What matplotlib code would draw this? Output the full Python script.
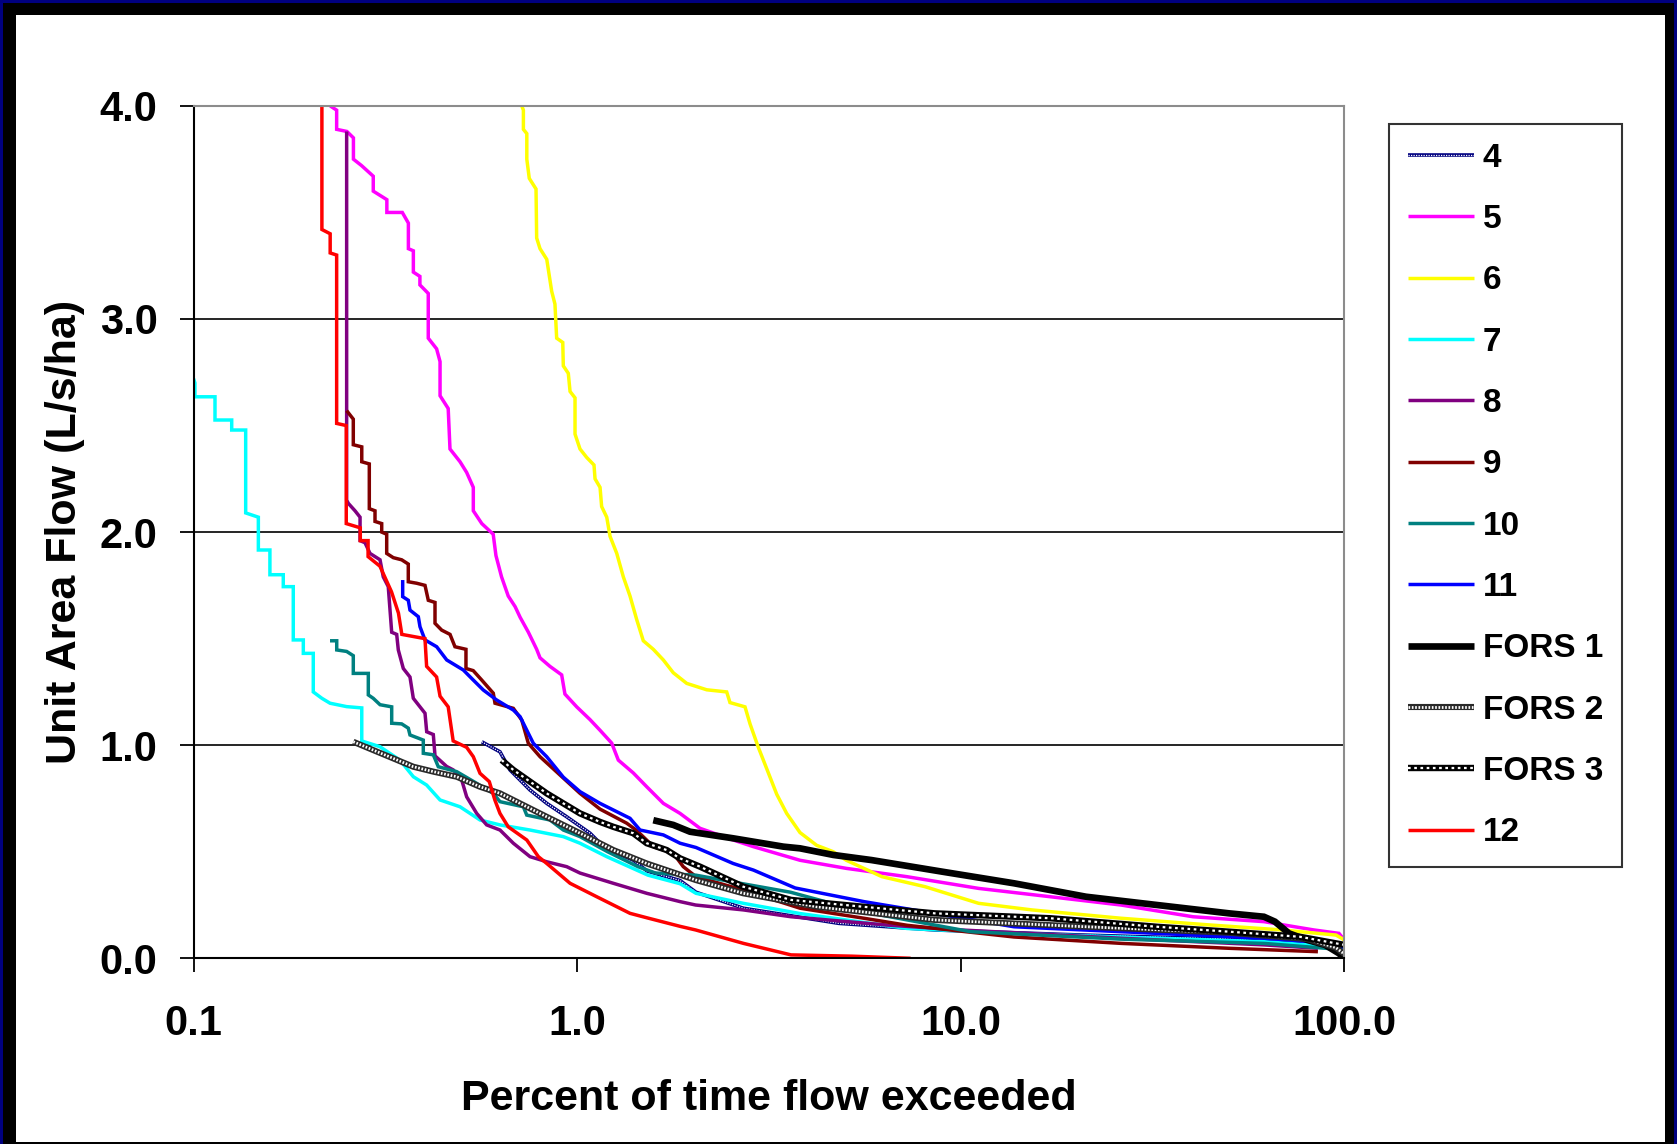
"""
Flow duration curves: unit area flow against percent of time the flow is exceeded.
"""
import matplotlib
matplotlib.use("Agg")
import matplotlib.pyplot as plt
from matplotlib.patches import Rectangle
from matplotlib.ticker import FixedLocator, NullLocator

# ---- data: percent of time exceeded / unit area flow (L/s/ha) ----
pct_4 = [0.564, 0.629, 0.668, 0.753, 0.833, 0.939, 1.08, 1.147, 1.242, 1.40, 1.52, 1.854, 2.04, 2.71, 4.81, 8.55, 20.0, 50.0, 100]
flow_4 = [1.016, 0.969, 0.884, 0.79, 0.727, 0.664, 0.587, 0.54, 0.50, 0.461, 0.41, 0.365, 0.31, 0.235, 0.164, 0.133, 0.11, 0.09, 0.054]

pct_5 = [0.227, 0.236, 0.236, 0.251, 0.261, 0.261, 0.274, 0.294, 0.294, 0.319,
         0.319, 0.350, 0.363, 0.363, 0.374, 0.374, 0.389, 0.389, 0.409, 0.409,
         0.430, 0.439, 0.439, 0.461, 0.466, 0.495, 0.515, 0.536, 0.536, 0.564,
         0.604, 0.614, 0.635, 0.661, 0.689, 0.710, 0.746, 0.784, 0.800, 0.849,
         0.911, 0.929, 0.997, 1.08, 1.147, 1.23, 1.28, 1.40, 1.518, 1.677,
         1.854, 2.09, 2.552, 2.878, 3.809, 5.03, 7.24, 11.13, 17.09, 26.16,
         40.3, 61.7, 83.3, 96.8, 100]
flow_5 = [4.00, 3.98, 3.89, 3.88, 3.85, 3.75, 3.72, 3.67, 3.60, 3.56,
          3.50, 3.50, 3.45, 3.33, 3.32, 3.22, 3.20, 3.16, 3.12, 2.91,
          2.86, 2.80, 2.64, 2.58, 2.39, 2.33, 2.28, 2.21, 2.10, 2.04,
          1.99, 1.89, 1.79, 1.70, 1.65, 1.60, 1.53, 1.45, 1.41, 1.37,
          1.33, 1.24, 1.18, 1.12, 1.07, 1.01, 0.93, 0.87, 0.805, 0.727,
          0.68, 0.61, 0.555, 0.524, 0.46, 0.422, 0.383, 0.328, 0.289, 0.25,
          0.195, 0.172, 0.133, 0.117, 0.086]

pct_6 = [0.717, 0.724, 0.724, 0.739, 0.739, 0.750, 0.781, 0.784, 0.800, 0.833,
         0.858, 0.875, 0.884, 0.917, 0.920, 0.948, 0.958, 0.987, 0.987, 1.017,
         1.059, 1.106, 1.113, 1.147, 1.158, 1.194, 1.218, 1.268, 1.319, 1.373,
         1.429, 1.487, 1.579, 1.677, 1.78, 1.93, 2.176, 2.453, 2.502, 2.738,
         2.822, 2.966, 3.182, 3.312, 3.516, 3.809, 4.211, 4.652, 5.03, 6.23,
         8.07, 11.13, 15.33, 26.16, 44.9, 68.8, 95.1, 100]
flow_6 = [4.00, 3.98, 3.89, 3.87, 3.75, 3.66, 3.61, 3.38, 3.33, 3.28,
          3.13, 3.07, 2.91, 2.89, 2.78, 2.745, 2.66, 2.63, 2.46, 2.39,
          2.35, 2.315, 2.25, 2.21, 2.12, 2.07, 1.98, 1.90, 1.79, 1.70,
          1.59, 1.49, 1.45, 1.40, 1.34, 1.29, 1.26, 1.25, 1.20, 1.18,
          1.10, 0.99, 0.85, 0.77, 0.68, 0.59, 0.53, 0.50, 0.46, 0.383,
          0.336, 0.258, 0.227, 0.188, 0.156, 0.133, 0.109, 0.086]

pct_7 = [0.100, 0.1008, 0.1008, 0.1137, 0.1137, 0.1257, 0.1257, 0.1367, 0.1367, 0.1475,
         0.1475, 0.1581, 0.1581, 0.1713, 0.1713, 0.1819, 0.1819, 0.1932, 0.1932, 0.2051,
         0.2051, 0.216, 0.2268, 0.2506, 0.2744, 0.2744, 0.306, 0.345, 0.374, 0.405,
         0.439, 0.495, 0.558, 0.629, 0.753, 0.92, 1.017, 1.194, 1.53, 1.854,
         2.04, 2.71, 3.81, 5.5, 7.24, 13.76, 32.5, 61.7, 95.0, 100]
flow_7 = [2.72, 2.70, 2.635, 2.635, 2.526, 2.526, 2.479, 2.479, 2.09, 2.07,
          1.916, 1.916, 1.80, 1.80, 1.744, 1.744, 1.494, 1.494, 1.431, 1.431,
          1.25, 1.22, 1.197, 1.181, 1.175, 1.02, 0.993, 0.93, 0.852, 0.813,
          0.743, 0.711, 0.649, 0.626, 0.602, 0.571, 0.54, 0.477, 0.39, 0.35,
          0.305, 0.258, 0.21, 0.17, 0.14, 0.117, 0.094, 0.078, 0.054, 0.03]

pct_8 = [0.2506, 0.2506, 0.2531, 0.2635, 0.2716, 0.2716, 0.2798, 0.2883, 0.3062, 0.3122,
         0.3217, 0.3284, 0.3384, 0.3417, 0.3521, 0.3665, 0.3739, 0.3892, 0.4011, 0.4052,
         0.4216, 0.4259, 0.4569, 0.4753, 0.4999, 0.515, 0.547, 0.5807, 0.6291, 0.6815,
         0.7533, 0.8327, 0.9389, 1.017, 1.242, 1.518, 1.854, 2.036, 2.713, 3.609,
         6.42, 10.0, 26.2, 61.7, 85.3]
flow_8 = [3.88, 2.15, 2.135, 2.10, 2.07, 1.96, 1.95, 1.90, 1.87, 1.79,
          1.744, 1.53, 1.52, 1.447, 1.36, 1.32, 1.22, 1.18, 1.15, 1.063,
          1.05, 0.95, 0.90, 0.884, 0.837, 0.758, 0.68, 0.626, 0.602, 0.54,
          0.477, 0.453, 0.43, 0.40, 0.352, 0.305, 0.266, 0.25, 0.227, 0.195,
          0.156, 0.133, 0.094, 0.063, 0.047]

pct_9 = [0.2506, 0.2608, 0.2608, 0.2744, 0.2744, 0.2871, 0.2871, 0.2971, 0.2971, 0.3093,
         0.3093, 0.3187, 0.3187, 0.3316, 0.3487, 0.3628, 0.3628, 0.3816, 0.4011, 0.4091,
         0.4259, 0.4259, 0.4433, 0.4661, 0.4801, 0.5129, 0.5129, 0.5357, 0.5636, 0.6043,
         0.6105, 0.6815, 0.7169, 0.7457, 0.80, 0.902, 1.017, 1.147, 1.346, 1.429,
         1.58, 1.78, 1.89, 2.04, 2.71, 3.81, 5.5, 7.24, 13.76, 26.2,
         50.0, 85.3]
flow_9 = [2.57, 2.53, 2.41, 2.40, 2.33, 2.32, 2.11, 2.10, 2.05, 2.04,
          2.00, 1.99, 1.90, 1.88, 1.87, 1.85, 1.767, 1.76, 1.75, 1.68,
          1.67, 1.572, 1.54, 1.52, 1.462, 1.45, 1.36, 1.35, 1.306, 1.244,
          1.197, 1.173, 1.118, 1.009, 0.946, 0.86, 0.774, 0.70, 0.634, 0.60,
          0.524, 0.493, 0.43, 0.383, 0.32, 0.235, 0.19, 0.155, 0.10, 0.07,
          0.047, 0.031]

pct_10 = [0.2268, 0.2361, 0.2361, 0.2506, 0.2608, 0.2608, 0.2854, 0.2854, 0.294, 0.3062,
          0.3284, 0.3284, 0.3487, 0.3628, 0.3665, 0.397, 0.397, 0.4216, 0.4344, 0.4851,
          0.547, 0.6043, 0.6291, 0.7238, 0.7387, 0.8494, 0.92, 1.017, 1.2, 1.44,
          1.6, 2.04, 2.7, 3.6, 5.5, 10.6, 26.0, 61.7, 100]
flow_10 = [1.49, 1.49, 1.447, 1.44, 1.42, 1.337, 1.337, 1.236, 1.22, 1.19,
           1.18, 1.103, 1.10, 1.08, 1.048, 1.024, 0.962, 0.955, 0.899, 0.876,
           0.821, 0.774, 0.735, 0.711, 0.672, 0.649, 0.602, 0.571, 0.50, 0.43,
           0.40, 0.39, 0.35, 0.31, 0.22, 0.125, 0.09, 0.07, 0.04]

pct_11 = [0.3508, 0.3508, 0.3628, 0.3665, 0.3853, 0.3892, 0.4011, 0.4302, 0.4569, 0.5047,
          0.5357, 0.5691, 0.6168, 0.6815, 0.7097, 0.7457, 0.7684, 0.8327, 0.92, 1.017,
          1.147, 1.373, 1.458, 1.677, 1.854, 2.04, 2.55, 2.88, 3.7, 5.59,
          13.76, 32.5, 61.7, 95.0, 100]
flow_11 = [1.775, 1.697, 1.68, 1.634, 1.603, 1.556, 1.494, 1.462, 1.40, 1.353,
           1.306, 1.259, 1.212, 1.165, 1.134, 1.056, 1.009, 0.946, 0.85, 0.782,
           0.727, 0.657, 0.602, 0.579, 0.54, 0.52, 0.445, 0.414, 0.33, 0.266,
           0.148, 0.117, 0.094, 0.07, 0.05]

pct_fors1 = [1.579, 1.78, 1.968, 2.552, 3.446, 3.81, 4.652, 5.85, 8.98, 13.76,
             21.2, 32.5, 50.0, 61.7, 65.9, 71.7, 80.0, 89.0, 96.8, 100]
flow_fors1 = [0.648, 0.626, 0.594, 0.563, 0.524, 0.516, 0.485, 0.461, 0.406, 0.352,
              0.289, 0.25, 0.211, 0.195, 0.172, 0.117, 0.086, 0.063, 0.023, 0.0]

pct_fors2 = [0.2608, 0.294, 0.3316, 0.3739, 0.4216, 0.4851, 0.5579, 0.6291, 0.7238, 0.8327,
             1.017, 1.242, 1.518, 2.04, 2.71, 4.21, 8.55, 20.0, 50.0, 80.0, 95.0, 100]
flow_fors2 = [1.016, 0.977, 0.938, 0.899, 0.876, 0.852, 0.805, 0.774, 0.719, 0.664,
              0.587, 0.508, 0.445, 0.367, 0.305, 0.242, 0.18, 0.15, 0.12, 0.09, 0.05, 0.02]

pct_fors3 = [0.6356, 0.6815, 0.7533, 0.8327, 0.92, 1.017, 1.147, 1.242, 1.40, 1.518,
             1.711, 1.854, 2.09, 2.71, 3.61, 5.56, 8.55, 17.1, 32.5, 50.0, 76.6, 100]
flow_fors3 = [0.93, 0.884, 0.829, 0.774, 0.727, 0.68, 0.64, 0.617, 0.587, 0.54,
              0.508, 0.469, 0.43, 0.336, 0.274, 0.242, 0.211, 0.188, 0.148, 0.125, 0.101, 0.063]

pct_12 = [0.216, 0.216, 0.227, 0.227, 0.236, 0.236, 0.250, 0.250, 0.272, 0.272,
          0.285, 0.285, 0.306, 0.328, 0.342, 0.349, 0.401, 0.405, 0.430, 0.439,
          0.461, 0.475, 0.515, 0.536, 0.558, 0.590, 0.610, 0.629, 0.661, 0.739,
          0.792, 0.833, 0.958, 1.124, 1.373, 1.52, 1.854, 2.036, 2.713, 3.609,
          5.2, 7.4]
flow_12 = [4.0, 3.42, 3.40, 3.31, 3.30, 2.51, 2.50, 2.04, 2.02, 1.96,
           1.96, 1.885, 1.84, 1.72, 1.62, 1.52, 1.50, 1.37, 1.32, 1.23,
           1.18, 1.02, 0.99, 0.946, 0.868, 0.829, 0.743, 0.68, 0.617, 0.555,
           0.477, 0.445, 0.352, 0.289, 0.211, 0.19, 0.15, 0.133, 0.07, 0.016,
           0.01, 0.0]

x_ticks = [0.1, 1, 10, 100]
x_tick_labels = ["0.1", "1.0", "10.0", "100.0"]
y_ticks = [0, 1, 2, 3, 4]
y_tick_labels = ["0.0", "1.0", "2.0", "3.0", "4.0"]

W, H, DPI = 1677, 1144, 100


def frame_box(fig, left, top, right, bottom, color):
    """ Paint a rectangle on the figure, given in pixels from the top-left corner.
    """
    fig.add_artist(Rectangle((left / W, 1 - bottom / H), (right - left) / W, (bottom - top) / H,
                             transform=fig.transFigure, facecolor=color, edgecolor="none", zorder=-10))


def draw_series(ax, pct, flow, color, lw, overlay=None):
    """ Draw one duration curve, optionally with a dotted pattern on top.

    Returns:
        handle (or tuple of handles) for the legend.
    """
    base, = ax.plot(pct, flow, color=color, lw=lw, solid_capstyle="butt", solid_joinstyle="miter")
    if overlay is None:
        return base
    o_color, o_lw, o_dash = overlay
    top, = ax.plot(pct, flow, color=o_color, lw=o_lw, linestyle=(0, o_dash), dash_capstyle="butt")
    return (base, top)


plt.rcParams["font.family"] = ["Liberation Sans", "DejaVu Sans"]
plt.rcParams["font.weight"] = "bold"

fig = plt.figure(figsize=(W / DPI, H / DPI), dpi=DPI)
fig.patch.set_facecolor("#000080")
frame_box(fig, 3, 3, 1674, 1144, "black")
frame_box(fig, 16, 15, 1665, 1142, "white")

ax = fig.add_axes([193.6 / W, 1 - 958.3 / H, (1344.4 - 193.6) / W, (958.3 - 105.9) / H])
ax.set_facecolor("white")

# series in the order of the legend, later ones are drawn on top
series = [
    ("4", pct_4, flow_4, "#000080", 2.6, ("white", 0.9, (1, 1))),
    ("5", pct_5, flow_5, "#FF00FF", 2.5, None),
    ("6", pct_6, flow_6, "#FFFF00", 2.5, None),
    ("7", pct_7, flow_7, "#00FFFF", 2.5, None),
    ("8", pct_8, flow_8, "#800080", 2.5, None),
    ("9", pct_9, flow_9, "#800000", 2.5, None),
    ("10", pct_10, flow_10, "#008080", 2.5, None),
    ("11", pct_11, flow_11, "#0000FF", 2.5, None),
    ("FORS 1", pct_fors1, flow_fors1, "black", 4.8, None),
    ("FORS 2", pct_fors2, flow_fors2, "#2a2a2a", 4.4, ("white", 2.0, (0.6, 0.6))),
    ("FORS 3", pct_fors3, flow_fors3, "black", 4.6, ("white", 1.6, (1.2, 1.6))),
    ("12", pct_12, flow_12, "#FF0000", 2.5, None),
]

handles, labels = [], []
for label, pct, flow, color, lw, overlay in series:
    handles.append(draw_series(ax, pct, flow, color, lw, overlay))
    labels.append(label)

ax.set_xscale("log")
ax.set_xlim(0.1, 100)
ax.set_ylim(0, 4)
ax.xaxis.set_major_locator(FixedLocator(x_ticks))
ax.xaxis.set_minor_locator(NullLocator())
ax.set_xticklabels(x_tick_labels)
ax.set_yticks(y_ticks)
ax.set_yticklabels(y_tick_labels)

ax.yaxis.grid(True, color="black", lw=1.2)
ax.set_axisbelow(True)
for side in ["left", "bottom"]:
    ax.spines[side].set_color("black")
    ax.spines[side].set_linewidth(1.5)
for side in ["top", "right"]:
    ax.spines[side].set_color("#8c8c8c")
    ax.spines[side].set_linewidth(1.5)

ax.tick_params(axis="both", direction="out", length=10, width=1.3, labelsize=30, colors="black")
ax.tick_params(axis="x", pad=23)
ax.tick_params(axis="y", pad=16)

ax.set_xlabel("Percent of time flow exceeded", fontsize=31, fontweight="bold")
ax.set_ylabel("Unit Area Flow (L/s/ha)", fontsize=31, fontweight="bold")
ax.xaxis.set_label_coords(0.5, -0.142)
ax.yaxis.set_label_coords(-0.094, 0.5)

leg = ax.legend(handles, labels, loc="upper left", bbox_to_anchor=(1389 / W, 1 - 124 / H),
                bbox_transform=fig.transFigure, fontsize=24, frameon=True, fancybox=False,
                handlelength=2.0, handletextpad=0.25, labelspacing=0.91, borderpad=0.56,
                borderaxespad=0)
leg.get_frame().set_edgecolor("black")
leg.get_frame().set_linewidth(1.5)

fig.savefig("out.png", dpi=DPI)
